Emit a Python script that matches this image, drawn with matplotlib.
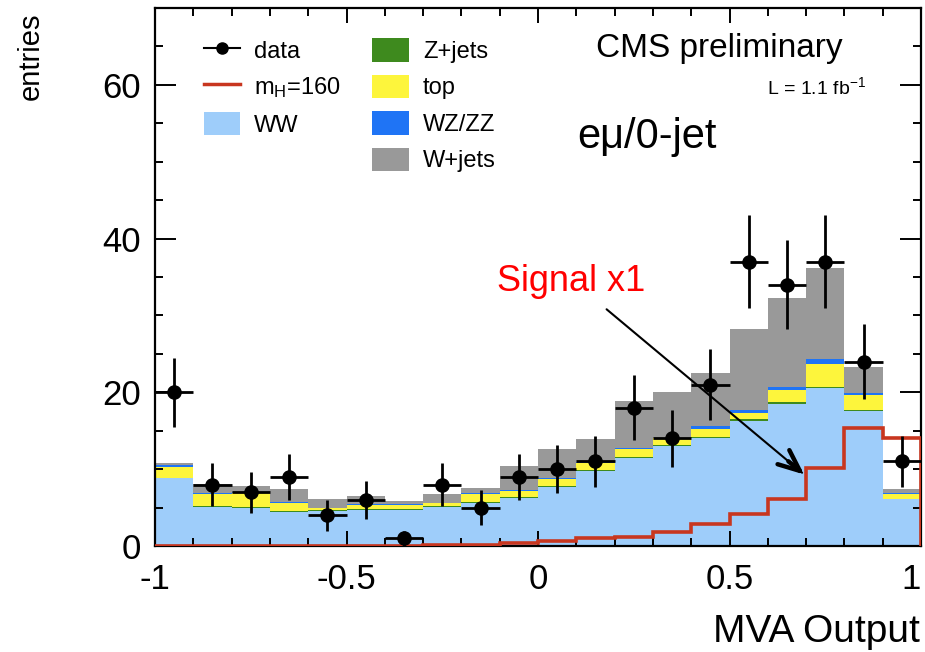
import numpy as np
import matplotlib
matplotlib.use("Agg")
import matplotlib.pyplot as plt
from matplotlib.lines import Line2D
from matplotlib.patches import Patch
from matplotlib.ticker import MultipleLocator, FixedLocator, FixedFormatter

plt.rcParams['font.family'] = ['Liberation Sans', 'DejaVu Sans']
plt.rcParams['mathtext.fontset'] = 'custom'
plt.rcParams['mathtext.rm'] = 'Liberation Sans'
plt.rcParams['mathtext.it'] = 'Liberation Sans'
plt.rcParams['axes.unicode_minus'] = False

# MVA output binning: 20 bins on [-1, 1]
bin_edges = np.linspace(-1.0, 1.0, 21)

# Background predictions per bin
ww = [8.8, 5.1, 5.0, 4.4, 4.6, 4.7, 4.7, 5.1, 5.6, 6.3,
      7.7, 9.8, 11.4, 13.0, 14.0, 16.3, 18.5, 20.5, 17.5, 6.1]
zjets = [0.1, 0.15, 0.1, 0.1, 0.05, 0.1, 0.1, 0.1, 0.1, 0.1,
         0.1, 0.15, 0.2, 0.15, 0.2, 0.2, 0.25, 0.2, 0.2, 0.05]
top = [1.4, 1.5, 1.8, 1.1, 0.25, 0.5, 0.5, 0.35, 1.1, 0.7,
       0.95, 0.9, 1.0, 0.85, 1.0, 0.8, 1.5, 3.0, 1.9, 0.65]
wzzz = [0.3, 0.2, 0.1, 0.15, 0.05, 0.15, 0.15, 0.05, 0.15, 0.15,
        0.1, 0.1, 0.2, 0.1, 0.35, 0.35, 0.4, 0.6, 0.3, 0.05]
wjets = [0.2, 1.15, 0.8, 1.7, 1.2, 1.05, 0.4, 1.2, 0.65, 3.15,
         3.75, 2.95, 6.1, 6.0, 6.95, 10.55, 11.65, 11.9, 3.4, 0.5]

# Higgs signal, m_H = 160
signal = [0.05, 0.05, 0.05, 0.05, 0.05, 0.05, 0.05, 0.1, 0.15, 0.4,
          0.6, 1.0, 1.2, 1.85, 2.8, 4.2, 6.15, 10.1, 15.35, 14.05]

# Observed events
data = [20, 8, 7, 9, 4, 6, 1, 8, 5, 9,
        10, 11, 18, 14, 21, 37, 34, 37, 24, 11]

x_tick_values = [-1, -0.5, 0, 0.5, 1]
x_tick_labels = ['-1', '-0.5', '0', '0.5', '1']
y_tick_values = [0, 20, 40, 60]
y_tick_labels = ['0', '20', '40', '60']

c_ww = '#9ecdfa'
c_z = '#3e8a1e'
c_top = '#fdf53c'
c_wz = '#1f74f5'
c_wj = '#999999'
c_sig = '#c8361f'

fig = plt.figure(figsize=(9.25, 6.52), dpi=100)
ax = fig.add_axes([0.1676, 0.1626, 0.8281, 0.8251])

# stacked backgrounds, bottom to top
stack = [(ww, c_ww, 'WW'), (zjets, c_z, 'Z+jets'), (top, c_top, 'top'),
         (wzzz, c_wz, 'WZ/ZZ'), (wjets, c_wj, 'W+jets')]
base = np.zeros(len(ww))
handles = {}
for vals, col, name in stack:
    upper = base + np.asarray(vals)
    ax.stairs(upper, bin_edges, baseline=base, fill=True, color=col, lw=0)
    handles[name] = Patch(facecolor=col, edgecolor='none')
    base = upper

# signal outline
ax.stairs(signal, bin_edges, baseline=0, fill=False, color=c_sig, lw=2.6, zorder=3)

# data with Poisson errors
centers = 0.5 * (bin_edges[:-1] + bin_edges[1:])
d = np.asarray(data, dtype=float)
ax.errorbar(centers, d, yerr=np.sqrt(d), xerr=0.05, fmt='o', color='k',
            ms=9.5, elinewidth=2.0, capsize=0, zorder=4, clip_on=True)

ax.set_xlim(-1, 1)
ax.set_ylim(0, 70)

ax.xaxis.set_major_locator(FixedLocator(x_tick_values))
ax.xaxis.set_major_formatter(FixedFormatter(x_tick_labels))
ax.xaxis.set_minor_locator(MultipleLocator(0.1))
ax.yaxis.set_major_locator(FixedLocator(y_tick_values))
ax.yaxis.set_major_formatter(FixedFormatter(y_tick_labels))
ax.yaxis.set_minor_locator(MultipleLocator(5))
ax.tick_params(which='both', direction='in', top=True, right=True, width=1.4,
               color='k')
ax.tick_params(which='major', length=11, labelsize=25)
ax.tick_params(axis='x', which='major', pad=12)
ax.tick_params(axis='y', which='major', pad=10, length=15)
ax.tick_params(which='minor', length=6)
for s in ax.spines.values():
    s.set_linewidth(1.6)

# keep the last x label inside the figure edge
ax.set_xticks(x_tick_values)
ax.set_xticklabels(x_tick_labels)
ax.get_xticklabels()[-1].set_horizontalalignment('right')

fig.text(920 / 925, 1 - 632 / 652, 'MVA Output', ha='right', va='center',
         fontsize=28)
fig.text(31 / 925, 1 - 12 / 652, 'entries', ha='center', va='top',
         rotation=90, fontsize=21)

# legends
leg_kw = dict(loc='upper left', frameon=False, fontsize=17, borderpad=0,
              labelspacing=0.5, handlelength=1.55, handleheight=1.15,
              handletextpad=0.6)
leg1 = ax.legend([Line2D([], [], color='k', marker='o', ms=8, lw=1.5),
                  Line2D([], [], color=c_sig, lw=2.5), handles['WW']],
                 ['data', 'm$_\\mathregular{H}$=160', 'WW'],
                 bbox_to_anchor=(0.048, 0.966), **leg_kw)
ax.add_artist(leg1)
ax.legend([handles['Z+jets'], handles['top'], handles['WZ/ZZ'], handles['W+jets']],
          ['Z+jets', 'top', 'WZ/ZZ', 'W+jets'],
          bbox_to_anchor=(0.268, 0.966), **leg_kw)

ax.text(0.4726, 63.6, 'CMS preliminary', ha='center', va='baseline', fontsize=24)
ax.text(0.856, 58.8, 'L = 1.1 fb$^{-1}$', ha='right', va='baseline', fontsize=14)
ax.text(0.102, 51.8, 'e\u03bc/0-jet', ha='left', va='baseline', fontsize=30)
ax.text(-0.107, 33.2, 'Signal x1', ha='left', va='baseline', fontsize=26,
        color='#ff0000')

# arrow: thin shaft with a bold open head
tip = (0.695, 9.3)
tail = (0.179, 30.8)
ax.annotate('', xy=tip, xytext=tail,
            arrowprops=dict(arrowstyle='-', lw=1.5, color='k',
                            shrinkA=0, shrinkB=2))
near = (tip[0] - 0.08 * (tip[0] - tail[0]), tip[1] - 0.08 * (tip[1] - tail[1]))
ax.annotate('', xy=tip, xytext=near,
            arrowprops=dict(arrowstyle='->,head_length=0.7,head_width=0.3',
                            lw=3.2, color='k', mutation_scale=22,
                            shrinkA=0, shrinkB=0))

fig.savefig('out.png', dpi=100)
